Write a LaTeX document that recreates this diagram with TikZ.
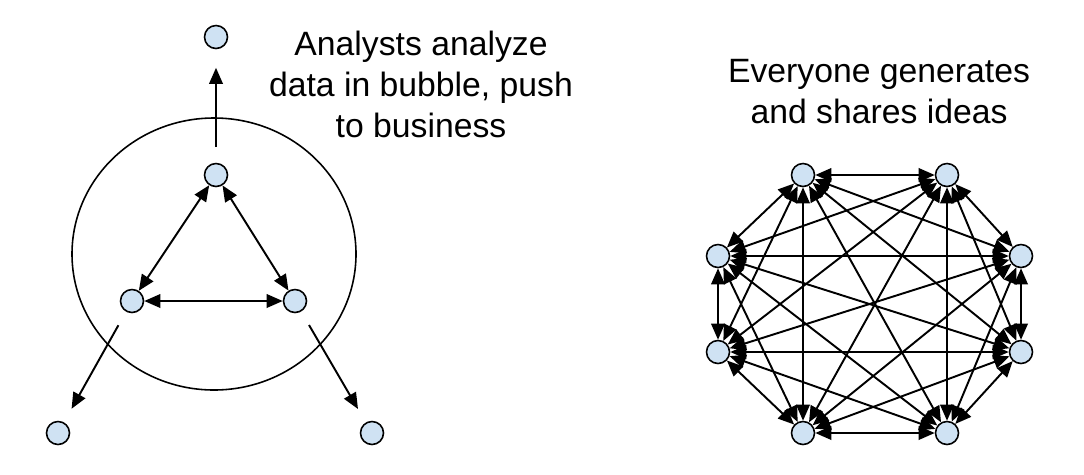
\documentclass[tikz,border=0pt]{standalone}
\usepackage{fontspec}
\setmainfont{Liberation Sans}
\usepackage{tikz}
\usetikzlibrary{arrows.meta, positioning, calc}
\definecolor{bubfill}{HTML}{CFE2F3}

\begin{document}
\begin{tikzpicture}[x=0.02cm,y=-0.02cm,
		dot/.style={circle,draw,line width=0.9pt,fill=bubfill,inner sep=0pt,minimum size=0.46cm},
		link/.style={{Triangle[length=0.32cm,width=0.27cm]}-{Triangle[length=0.32cm,width=0.27cm]},line width=1.1pt},
		push/.style={-{Triangle[length=0.32cm,width=0.27cm]},line width=1.1pt,shorten <=0.31cm,shorten >=0.31cm},
		caption/.style={align=center,font=\fontsize{19.2}{23.3}\selectfont,inner sep=0pt}]
	\useasboundingbox (0,0) rectangle (1084,474);
	% bubble of analysts
	\draw[line width=0.9pt] (214,254) ellipse [x radius=142, y radius=136];
	\node[dot] (atop) at (216,175) {};
	\node[dot] (aleft) at (132,301) {};
	\node[dot] (aright) at (295,301) {};
	\node[dot] (btop) at (216,37) {};
	\node[dot] (bleft) at (58,433) {};
	\node[dot] (bright) at (372,433) {};
	\draw[link] (atop) -- (aleft);
	\draw[link] (atop) -- (aright);
	\draw[link] (aleft) -- (aright);
	\draw[push,shorten >=0.37cm] (atop) -- (btop);
	\draw[push] (aleft) -- (bleft);
	\draw[push] (aright) -- (bright);
	\node[caption,anchor=base] (analysts) at (421,137) {Analysts analyze\\data in bubble, push\\to business};
	% everyone with everyone
	\node[dot] (e1) at (803,175) {};
	\node[dot] (e2) at (947,175) {};
	\node[dot] (e3) at (1021,256) {};
	\node[dot] (e4) at (1021,352) {};
	\node[dot] (e5) at (947,433) {};
	\node[dot] (e6) at (803,433) {};
	\node[dot] (e7) at (718,352) {};
	\node[dot] (e8) at (718,256) {};
	\foreach \i [evaluate=\i as \k using int(\i+1)] in {1,...,7}
		\foreach \j in {\k,...,8}
			\draw[link] (e\i) -- (e\j);
	\node[caption,anchor=base] (everyone) at (879,123) {Everyone generates\\and shares ideas};
\end{tikzpicture}
\end{document}
